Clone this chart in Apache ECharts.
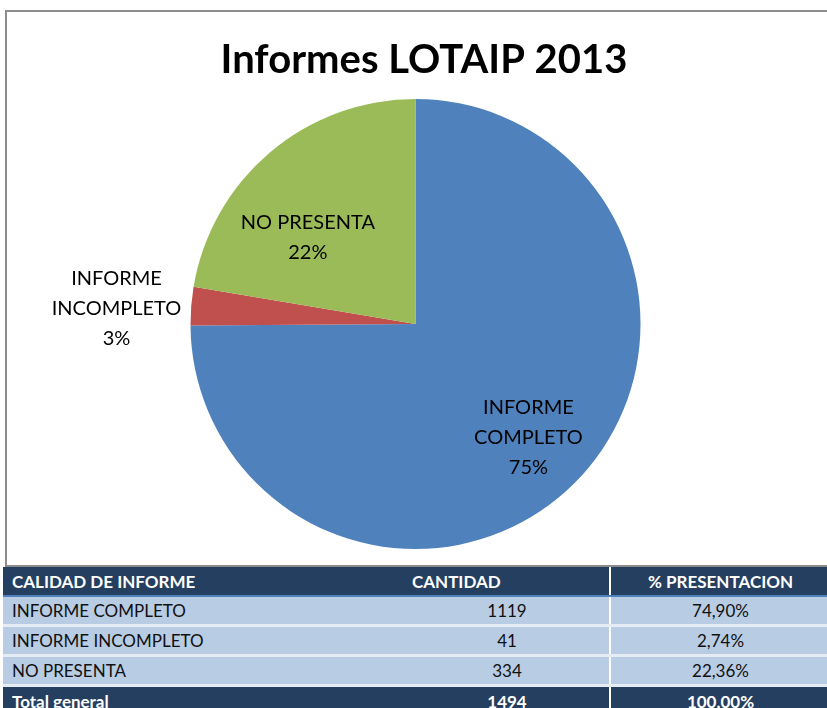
<!DOCTYPE html>
<html>
<head>
<meta charset="utf-8">
<script src="https://cdn.jsdelivr.net/npm/echarts@6/dist/echarts.min.js"></script>
<style>
  html, body { margin: 0; padding: 0; background: #fff; }
  #wrap { position: relative; width: 827px; height: 708px; overflow: hidden; }
  #frame { position: absolute; left: 5px; top: 10px; width: 830px; height: 553px;
           border-left: 2px solid #8c8c8c; border-top: 2px solid #8c8c8c; border-bottom: 2px solid #8c8c8c; }
  #chart { position: absolute; left: 0; top: 0; width: 827px; height: 565px; }
  #tbl { position: absolute; left: 3px; top: 567px; width: 830px; border-collapse: collapse; table-layout: fixed;
         font-family: Lato, 'Open Sans', sans-serif; font-size: 17px; }
  #tbl td { padding: 0; }
  #tbl tr.head td { height: 28px; }
  #tbl tr.body td { height: 27px; }
  #tbl tr.total td { height: 28px; }
  #tbl tr.head td, #tbl tr.total td { background: #243f60; color: #fff; font-weight: bold; }
  #tbl tr.head td { border-bottom: 2px solid #4f81bd; }
  #tbl tr.body td { background: #b8cce4; color: #111; border-bottom: 3px solid #e6ecf4; }
  #tbl td.c1 { padding-left: 9px; }
  #tbl td.c2 { text-align: center; border-right: 2px solid #fff; }
  #tbl td.c3 { text-align: center; padding-right: 3px; }
  #tbl tr.head td.c2 { text-align: left; padding-left: 7px; }
</style>
</head>
<body>
<div id="wrap">
  <div id="frame"></div>
  <div id="chart"></div>
  <table id="tbl">
    <colgroup><col style="width:402px"><col style="width:205px"><col style="width:223px"></colgroup>
    <tbody id="tbody"></tbody>
  </table>
</div>
<script>
const title = 'Informes LOTAIP 2013';
const categories = ['INFORME COMPLETO', 'INFORME INCOMPLETO', 'NO PRESENTA'];
const labelNames = ['INFORME\nCOMPLETO', 'INFORME\nINCOMPLETO', 'NO PRESENTA'];
const counts = [1119, 41, 334];
const percents = ['74,90%', '2,74%', '22,36%'];
const headers = ['CALIDAD DE INFORME', 'CANTIDAD', '% PRESENTACION'];
const totalRow = ['Total general', '1494', '100,00%'];
const colors = ['#4f81bd', '#c0504d', '#9bbb59'];

// tabla
const tbody = document.getElementById('tbody');
let html = '<tr class="head"><td class="c1">' + headers[0] + '</td><td class="c2">' + headers[1] + '</td><td class="c3">' + headers[2] + '</td></tr>';
categories.forEach((c, i) => {
  html += '<tr class="body"><td class="c1">' + c + '</td><td class="c2">' + counts[i] + '</td><td class="c3">' + percents[i] + '</td></tr>';
});
html += '<tr class="total"><td class="c1">' + totalRow[0] + '</td><td class="c2">' + totalRow[1] + '</td><td class="c3">' + totalRow[2] + '</td></tr>';
tbody.innerHTML = html;

const myChart = echarts.init(document.getElementById('chart'));
const option = {
  animation: false,
  title: {
    text: title,
    left: 419,
    top: 35,
    textAlign: 'center',
    textStyle: { fontFamily: 'Lato', fontWeight: 'bold', fontSize: 40, color: '#000' },
  },
  series: [
    {
      type: 'pie',
      center: [415.5, 324],
      radius: 225,
      startAngle: 90,
      clockwise: true,
      avoidLabelOverlap: false,
      label: {
        fontFamily: 'Lato',
        fontSize: 20,
        lineHeight: 30,
        color: '#000',
        align: 'center',
      },
      labelLine: { show: false },
      itemStyle: { borderWidth: 0 },
      data: categories.map((c, i) => ({
        name: labelNames[i],
        value: counts[i],
        itemStyle: { color: colors[i] },
        label: { position: i === 1 ? 'outside' : 'inside' },
      })),
      labelLayout: function (params) {
        const r = params.labelRect;
        if (params.dataIndex === 0) return { dx: 31, dy: 32, align: 'center' };
        if (params.dataIndex === 2) return { dx: -33, dy: 2, align: 'center' };
        return { dx: -r.width / 2 + 40, dy: 4, align: 'center' };
      },
    },
  ],
};
option.series[0].label.formatter = function (p) {
  return p.name + '\n' + Math.round(p.percent) + '%';
};
myChart.setOption(option);
</script>
</body>
</html>
